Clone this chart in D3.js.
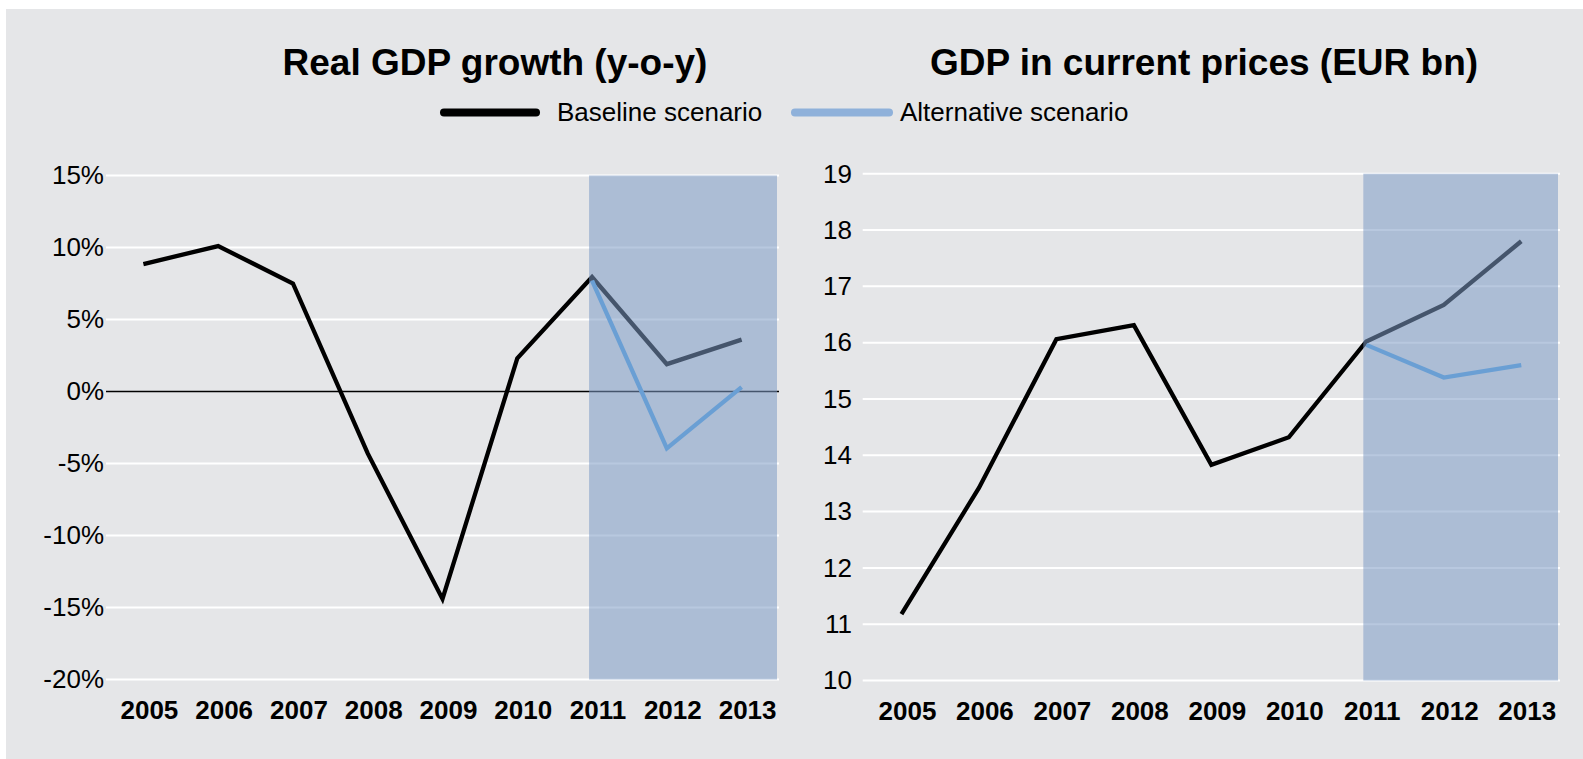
<!DOCTYPE html>
<html>
<head>
<meta charset="utf-8">
<script src="https://cdn.jsdelivr.net/npm/d3@7"></script>
<style>
  body { margin: 0; background: #fff; }
  svg text { font-family: "Liberation Sans", Arial, sans-serif; fill: #000; }
</style>
</head>
<body>
<svg id="chart" width="1583" height="759"></svg>
<script>
// DATA ------------------------------
const years = ["2005", "2006", "2007", "2008", "2009", "2010", "2011", "2012", "2013"];
const altYears = ["2011", "2012", "2013"];

// real GDP growth, % y-o-y
const growthBase = [8.85, 10.1, 7.5, -4.3, -14.4, 2.3, 7.95, 1.9, 3.6];
const growthAlt = [7.7, -3.95, 0.3];
const growthTicks = [-20, -15, -10, -5, 0, 5, 10, 15];

// GDP in current prices, EUR bn
const gdpBase = [11.18, 13.42, 16.06, 16.31, 13.83, 14.32, 16.02, 16.67, 17.8];
const gdpAlt = [15.96, 15.38, 15.6];
const gdpTicks = [10, 11, 12, 13, 14, 15, 16, 17, 18, 19];

const legendNames = ["Baseline scenario", "Alternative scenario"];

// CHART INIT ------------------------------
const svg = d3.select("#chart");

svg.append("rect")
    .attr("x", 6).attr("y", 9)
    .attr("width", 1577).attr("height", 750)
    .attr("fill", "#e5e6e8");

const baseColor = "#000",
      altColor = "#6a9fd4",
      altLegendColor = "#8fb1da";

function drawPanel(cfg) {
    const xScale = d3.scaleBand()
        .domain(years)
        .range([cfg.left, cfg.right])
        .padding(0);
    const xc = d => xScale(d) + xScale.bandwidth() / 2;

    const yScale = d3.scaleLinear()
        .domain(cfg.domain)
        .range([cfg.bottom, cfg.top]);

    const g = svg.append("g");

    // gridlines
    g.selectAll(".grid")
        .data(cfg.ticks)
        .enter().append("line")
        .attr("class", "grid")
        .attr("x1", cfg.left).attr("x2", cfg.right)
        .attr("y1", d => yScale(d)).attr("y2", d => yScale(d))
        .attr("stroke", d => (cfg.zero && d === 0) ? "none" : "#fff")
        .attr("stroke-width", 2);

    if (cfg.zero) {
        g.append("line")
            .attr("x1", cfg.left).attr("x2", cfg.right)
            .attr("y1", yScale(0)).attr("y2", yScale(0))
            .attr("stroke", "#000")
            .attr("stroke-width", 1.5);
    }

    // y axis labels
    const yAxis = g.append("g")
        .attr("transform", "translate(" + cfg.labelX + ",0)")
        .call(d3.axisLeft(yScale).tickValues(cfg.ticks).tickFormat(cfg.fmt).tickSize(0).tickPadding(0));
    yAxis.select(".domain").remove();
    yAxis.selectAll("text")
        .style("font-size", "26px")
        .attr("fill", "#000");

    // x axis labels
    const xAxis = g.append("g")
        .attr("transform", "translate(6," + (cfg.bottom + 21) + ")")
        .call(d3.axisBottom(xScale).tickSize(0).tickPadding(0));
    xAxis.select(".domain").remove();
    xAxis.selectAll("text")
        .style("font-size", "26px")
        .style("font-weight", "bold")
        .attr("fill", "#000");

    const line = d3.line()
        .x((d, i) => xc(d.year))
        .y(d => yScale(d.v))
        .curve(d3.curveLinear);

    const base = years.map((y, i) => ({year: y, v: cfg.base[i]}));
    const alt = altYears.map((y, i) => ({year: y, v: cfg.alt[i]}));

    g.append("path")
        .datum(base)
        .attr("d", line)
        .attr("fill", "none")
        .attr("stroke", baseColor)
        .attr("stroke-width", 4.3)
        .attr("stroke-linejoin", "miter");

    // forecast shading
    const shadeX = xc("2011") - 3;
    g.append("rect")
        .attr("x", shadeX)
        .attr("y", cfg.top)
        .attr("width", cfg.right - 2 - shadeX)
        .attr("height", cfg.bottom - cfg.top)
        .attr("fill", "rgb(125,155,196)")
        .attr("fill-opacity", 0.55);

    g.append("path")
        .datum(alt)
        .attr("d", line)
        .attr("fill", "none")
        .attr("stroke", altColor)
        .attr("stroke-width", 4.3);

    svg.append("text")
        .attr("x", cfg.titleX)
        .attr("y", 74.5)
        .attr("text-anchor", "middle")
        .style("font-size", "37px")
        .style("font-weight", "bold")
        .text(cfg.title);
}

drawPanel({
    title: "Real GDP growth (y-o-y)", titleX: 495,
    left: 106, right: 779, top: 175.5, bottom: 679.5, labelX: 104,
    domain: [-20, 15], ticks: growthTicks, fmt: d => d + "%", zero: true,
    base: growthBase, alt: growthAlt
});

drawPanel({
    title: "GDP in current prices (EUR bn)", titleX: 1204,
    left: 862.7, right: 1560, top: 173.7, bottom: 680.5, labelX: 852,
    domain: [10, 19], ticks: gdpTicks, fmt: d => d, zero: false,
    base: gdpBase, alt: gdpAlt
});

// LEGEND ------------------------------
const legend = svg.append("g");
const legendItems = [
    {name: legendNames[0], color: baseColor, x1: 444, x2: 536, tx: 557},
    {name: legendNames[1], color: altLegendColor, x1: 795, x2: 889, tx: 900}
];
legendItems.forEach(d => {
    legend.append("line")
        .attr("x1", d.x1).attr("x2", d.x2)
        .attr("y1", 112.5).attr("y2", 112.5)
        .attr("stroke", d.color)
        .attr("stroke-width", 8)
        .attr("stroke-linecap", "round");
    legend.append("text")
        .attr("x", d.tx).attr("y", 121)
        .style("font-size", "26px")
        .text(d.name);
});
</script>
</body>
</html>
